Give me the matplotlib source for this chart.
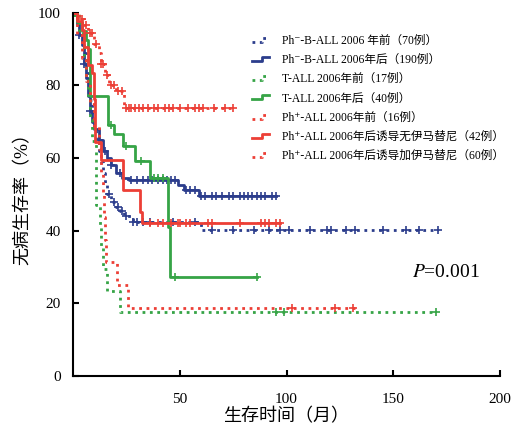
import numpy as np
import matplotlib
matplotlib.use("Agg")
import matplotlib.pyplot as plt
from matplotlib.legend_handler import HandlerLine2D
from matplotlib.lines import Line2D

plt.rcParams['font.family'] = ['Liberation Serif', 'DejaVu Serif', 'Noto Sans CJK SC']

# ---- data (time in months, survival %) ----
bd_t = [0, 2, 4, 5, 6, 7, 8, 9, 10, 11, 12, 13, 14, 15, 16, 18, 20, 22, 24, 28, 60]
bd_s = [100, 97, 93, 89, 84, 80, 76, 72, 68, 65, 62, 59, 56, 53, 50, 48, 46.5, 45.5, 44, 42.4, 40.2]
bd_end = 171
bd_c = [17, 19, 21, 23, 25, 28, 30, 33, 36, 47, 57, 65, 75, 85, 92, 97, 101, 111, 119, 121, 128, 132, 145, 156, 162, 171]

bs_t = [0, 2, 3, 4, 5, 6, 7, 8, 9, 10, 12, 14, 16, 18, 20, 23, 26, 49, 52, 59]
bs_s = [100, 97, 94, 91, 86, 82, 77, 73, 70, 68, 65, 62, 60, 58, 56, 54.5, 54, 52.7, 51.2, 49.5]
bs_end = 95
bs_c = [3, 5, 8, 12, 15, 18, 22, 27, 30, 33, 35, 37, 40, 42, 44, 46, 48, 53, 55, 57,
        60, 62, 65, 67, 70, 73, 75, 78, 80, 82, 84, 86, 88, 90, 93, 95]

gd_t = [0, 3, 5, 6, 7, 8, 9, 11, 12.6, 13.3, 14, 16, 22]
gd_s = [100, 94.1, 88.2, 82.4, 76.5, 70.6, 64.7, 47.1, 41.2, 35.3, 29.4, 23.5, 17.6]
gd_end = 170
gd_c = [1, 95, 99, 170]

gs_t = [0, 2, 4, 6, 7, 8, 16.4, 19, 23.4, 29, 36, 44.5, 45.4]
gs_s = [100, 97.5, 95, 92.5, 90, 77, 69, 66.5, 63.3, 59.3, 54.5, 41, 27.3]
gs_end = 86
gs_c = [1, 18, 25, 32, 38, 40, 42, 48, 86]

rd_t = [0, 2, 4, 6, 8, 10, 12, 13, 14, 14.5, 15, 15.5, 20.5, 25.7]
rd_s = [100, 93.75, 87.5, 81.25, 75, 68.75, 62.5, 56.25, 50, 43.75, 37.5, 31.25, 25, 18.75]
rd_end = 132
rd_c = [102.5, 122.7, 131]

rs_t = [0, 2, 4, 5, 7, 9, 10, 10.5, 13, 23.4, 31.4, 32.3]
rs_s = [100, 97.6, 95.2, 90.5, 85.7, 83.3, 76.2, 64.3, 59.5, 51.2, 45.2, 42.2]
rs_end = 97
rs_c = [36, 40, 42, 46, 49, 50, 53, 55, 63, 65, 78, 88, 90, 92, 95, 97]

ri_t = [0, 3, 5, 7, 10, 12, 13, 15, 17, 20, 24]
ri_s = [100, 98.3, 96.7, 94.5, 91.5, 89, 86, 83, 80, 78.5, 73.7]
ri_end = 75
ri_c = [4, 6, 8, 9, 11, 13, 14, 16, 18, 19, 21, 23, 25, 26, 27, 29, 31, 33, 35, 38, 40,
        43, 45, 47, 50, 54, 57, 59, 61, 66, 71, 75]

labels = [
    'Ph\u207b-B-ALL 2006 年前（70例）',
    'Ph\u207b-B-ALL 2006年后（190例）',
    'T-ALL 2006年前（17例）',
    'T-ALL 2006年后（40例）',
    'Ph\u207a-ALL 2006年前（16例）',
    'Ph\u207a-ALL 2006年后诱导无伊马替尼（42例）',
    'Ph\u207a-ALL 2006年后诱导加伊马替尼（60例）',
]

BLUE = '#2c3d8c'
GREEN = '#36a446'
RED = '#ec3f36'

series = [
    (bd_t, bd_s, bd_end, bd_c, BLUE, ':'),
    (bs_t, bs_s, bs_end, bs_c, BLUE, '-'),
    (gd_t, gd_s, gd_end, gd_c, GREEN, ':'),
    (gs_t, gs_s, gs_end, gs_c, GREEN, '-'),
    (rd_t, rd_s, rd_end, rd_c, RED, ':'),
    (rs_t, rs_s, rs_end, rs_c, RED, '-'),
    (ri_t, ri_s, ri_end, ri_c, RED, ':'),
]


class HandlerStep(HandlerLine2D):
    def create_artists(self, legend, orig_handle, xdescent, ydescent,
                       width, height, fontsize, trans):
        x0 = -xdescent
        y0 = -ydescent
        xs = [x0, x0 + width * 0.55, x0 + width * 0.55, x0 + width]
        ys = [y0 + height * 0.25, y0 + height * 0.25, y0 + height * 0.75, y0 + height * 0.75]
        line = Line2D(xs, ys)
        self.update_prop(line, orig_handle, legend)
        line.set_marker('None')
        line.set_transform(trans)
        return [line]


fig = plt.figure(figsize=(5.12, 4.34), dpi=100)
ax = fig.add_axes([0.1426, 0.1336, 0.834, 0.837])

handles = []
for (t, s, end, c, col, ls), lab in zip(series, labels):
    tt = list(t) + [end]
    ss = list(s) + [s[-1]]
    h, = ax.step(tt, ss, where='post', color=col, lw=2.0, ls=ls, label=lab)
    handles.append(h)
    c = np.asarray(c, dtype=float)
    idx = np.searchsorted(np.asarray(t), c, side='right') - 1
    cy = np.asarray(s)[idx]
    ax.plot(c, cy, ls='none', marker='+', color=col, ms=6, mew=1.2)

ax.set_xlim(0, 200)
ax.set_ylim(0, 100)
ax.set_xticks([50, 100, 150, 200])
ax.set_yticks([0, 20, 40, 60, 80, 100])
ax.spines['top'].set_visible(False)
ax.spines['right'].set_visible(False)
ax.spines['left'].set_linewidth(1.5)
ax.spines['bottom'].set_linewidth(1.5)
ax.tick_params(direction='in', length=4, width=1.5, labelsize=11)
ax.tick_params(axis='x', pad=12)
ax.tick_params(axis='y', pad=9)

ax.set_xlabel('生存时间（月）', fontsize=13, labelpad=2)
ax.set_ylabel('无病生存率（%）', fontsize=13, labelpad=4)

ax.text(159, 28.6, '$P$=0.001', fontsize=14, va='center', ha='left',
        math_fontfamily='stix')

leg = ax.legend(handles, labels, loc='upper left', bbox_to_anchor=(0.40, 0.962),
                frameon=False, fontsize=8.4, handlelength=1.5, handletextpad=1.1,
                labelspacing=0.62, borderaxespad=0.3, handler_map={Line2D: HandlerStep()})

fig.savefig('out.png', dpi=100)
